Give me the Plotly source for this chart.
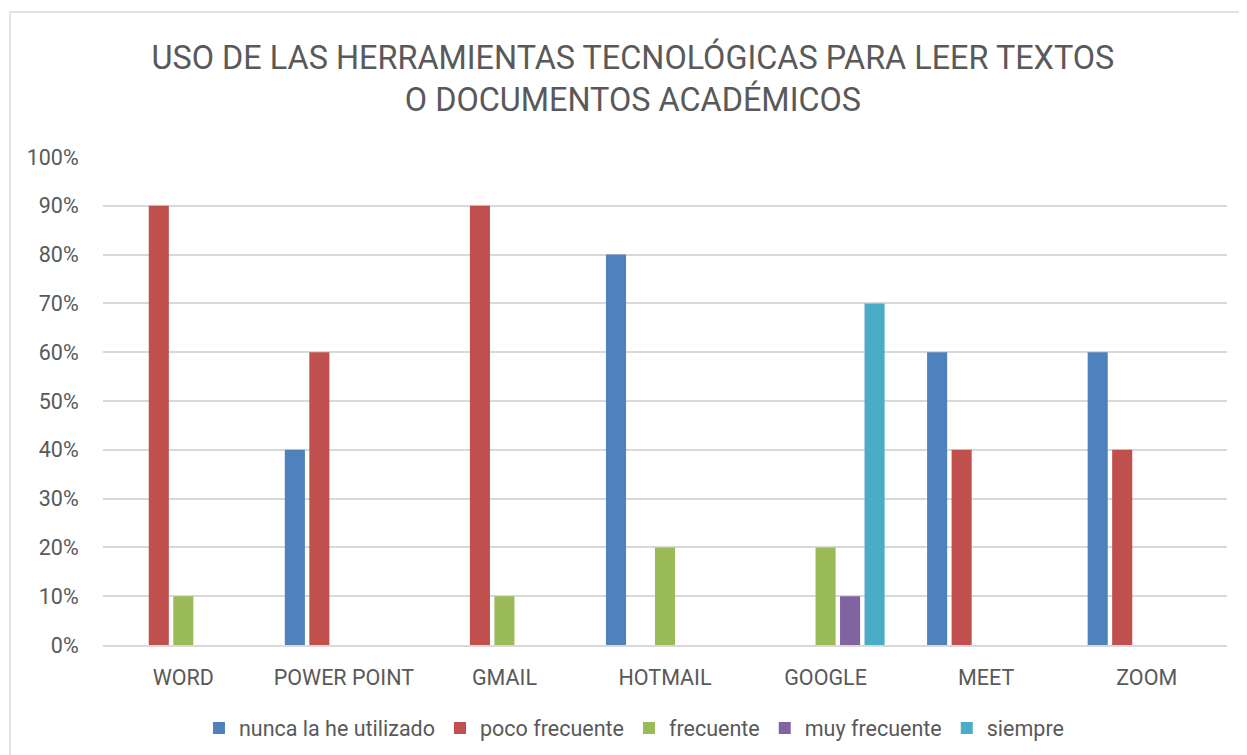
import plotly.graph_objects as go

categories = ["WORD", "POWER POINT", "GMAIL", "HOTMAIL", "GOOGLE", "MEET", "ZOOM"]
series_names = ["nunca la he utilizado", "poco frecuente", "frecuente", "muy frecuente", "siempre"]
nunca = [0, 0.40, 0, 0.80, 0, 0.60, 0.60]
poco = [0.90, 0.60, 0.90, 0, 0, 0.40, 0.40]
frecuente = [0.10, 0, 0.10, 0.20, 0.20, 0, 0]
muy_frecuente = [0, 0, 0, 0, 0.10, 0, 0]
siempre = [0, 0, 0, 0, 0.70, 0, 0]
colors = ["#4F81BD", "#C0504D", "#9BBB59", "#8064A2", "#4BACC6"]

FONT = "Roboto, Arial, sans-serif"
GREY = "#595959"
FS = 21.5

fig = go.Figure()
for name, vals, col in zip(series_names, [nunca, poco, frecuente, muy_frecuente, siempre], colors):
    fig.add_trace(go.Bar(x=categories, y=vals, name=name, marker=dict(color=col, line=dict(width=0))))

fig.update_layout(
    width=1239, height=747,
    margin=dict(l=95, r=20, t=149, b=110, autoexpand=False),
    paper_bgcolor="white", plot_bgcolor="white",
    barmode="group", bargap=0.237, bargroupgap=0.18,
    title=dict(text="USO DE LAS HERRAMIENTAS TECNOLÓGICAS PARA LEER TEXTOS<br>O DOCUMENTOS ACADÉMICOS",
               x=0.5044, xanchor="center", xref="container", y=0.918, yanchor="top", yref="container",
               font=dict(family=FONT, size=32.4, color=GREY)),
    font=dict(family=FONT, color=GREY, size=FS),
    xaxis=dict(showline=True, linecolor="#d9d9d9", linewidth=1.5, ticks="outside", ticklen=12,
               tickcolor="rgba(0,0,0,0)", tickfont=dict(size=FS, color=GREY), showgrid=False),
    yaxis=dict(range=[0, 1.0], dtick=0.1, tickformat=".0%", showgrid=True, gridcolor="#d9d9d9", gridwidth=1.5,
               zeroline=False, ticks="outside", ticklen=19, tickcolor="rgba(0,0,0,0)",
               tickfont=dict(size=FS, color=GREY)),
    legend=dict(orientation="h", x=0.4724, xanchor="center", y=-0.170, yanchor="middle",
                font=dict(size=FS, color=GREY), itemwidth=30, traceorder="normal"),
    shapes=[dict(type="rect", xref="paper", yref="paper", x0=-0.0827, x1=1.2, y0=-0.6, y1=1.297,
                 line=dict(color="#d9d9d9", width=1.5), fillcolor="rgba(0,0,0,0)", layer="below")],
)

fig.write_html("out.html")
